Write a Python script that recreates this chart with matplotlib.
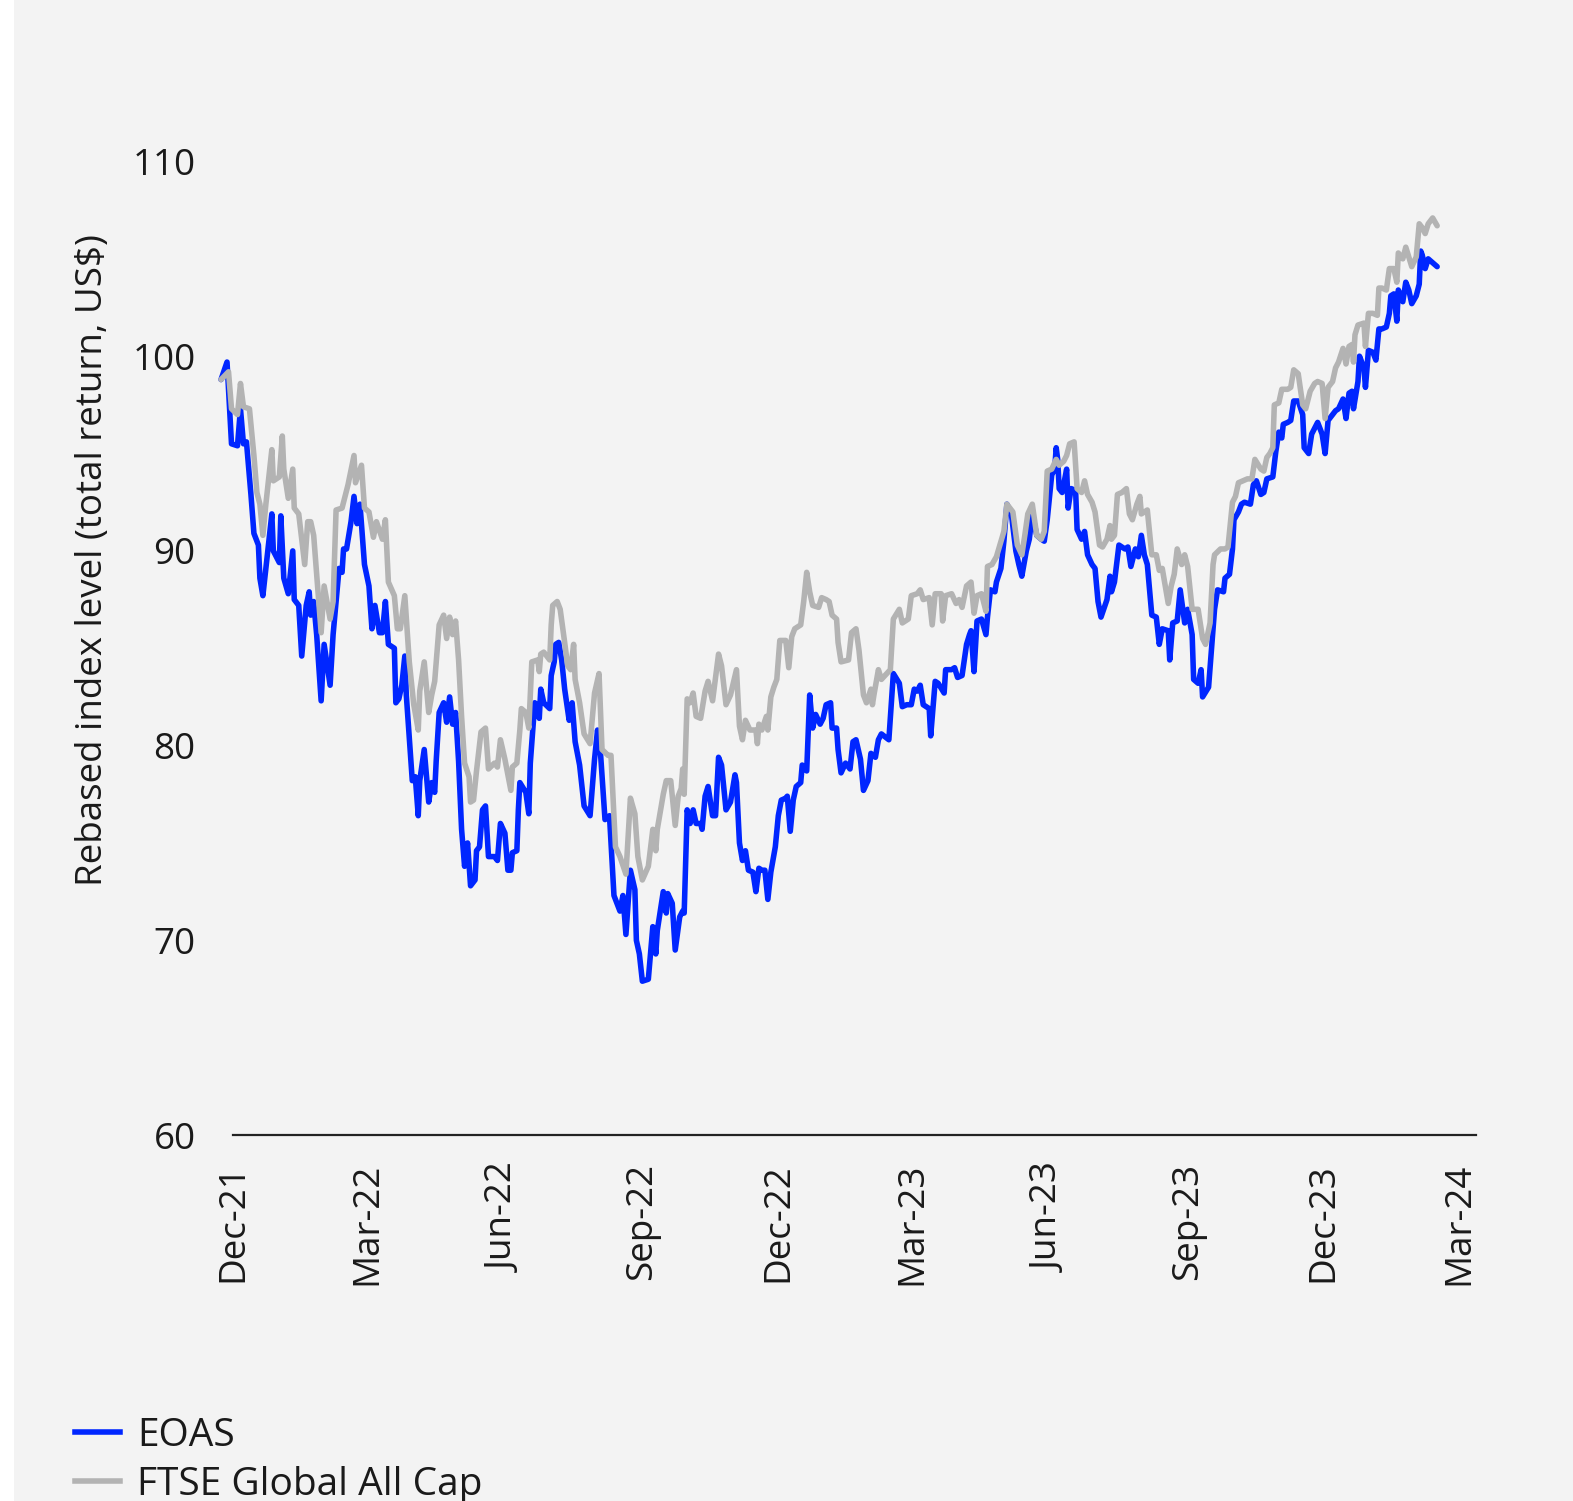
import numpy as np
import matplotlib
matplotlib.use("Agg")
import matplotlib.pyplot as plt
from matplotlib.patches import Rectangle
from matplotlib.lines import Line2D

plt.rcParams['font.family'] = ['Open Sans', 'DejaVu Sans']

start_date = np.datetime64('2021-11-23')

eoas_day = [0, 4, 7, 11, 13, 15, 17, 20, 22, 25, 26, 28, 34, 35, 39, 40, 42, 45, 48, 49,
            52, 54, 57, 59, 60, 62, 64, 67, 69, 73, 75, 79, 81, 82, 84, 87, 89, 91, 93, 96,
            99, 101, 103, 106, 108, 110, 112, 116, 117, 119, 121, 123, 124, 128, 130, 132, 133, 136, 139, 141,
            143, 144, 146, 149, 151, 153, 155, 157, 159, 161, 163, 165, 167, 170, 171, 173, 175, 177, 179, 183,
            185, 187, 190, 192, 194, 195, 198, 199, 200, 204, 206, 207, 210, 211, 213, 214, 216, 220, 221, 223,
            224, 226, 228, 230, 233, 235, 237, 240, 243, 247, 250, 252, 254, 257, 260, 263, 267, 269, 271, 274,
            277, 278, 280, 282, 286, 289, 291, 292, 296, 298, 299, 302, 304, 307, 309, 310, 312, 314, 316, 318,
            321, 322, 324, 326, 329, 331, 333, 335, 338, 341, 344, 345, 347, 349, 351, 353, 356, 358, 360, 362,
            364, 366, 368, 371, 373, 375, 378, 379, 381, 383, 385, 388, 389, 392, 394, 396, 398, 401, 403, 405,
            408, 409, 412, 413, 415, 418, 421, 423, 425, 428, 430, 433, 435, 438, 440, 442, 447, 450, 454, 456,
            459, 462, 464, 466, 468, 470, 474, 475, 478, 480, 484, 485, 489, 491, 493, 496, 499, 501, 502, 504,
            506, 509, 512, 513, 515, 518, 519, 522, 524, 526, 529, 532, 534, 536, 539, 541, 543, 546, 549, 551,
            553, 556, 558, 559, 560, 561, 563, 566, 567, 569, 572, 573, 576, 578, 580, 583, 585, 587, 589, 593,
            595, 596, 598, 601, 605, 607, 609, 612, 614, 616, 618, 620, 623, 626, 628, 630, 634, 635, 637, 640,
            642, 645, 647, 650, 651, 654, 656, 657, 661, 663, 665, 667, 671, 672, 675, 677, 678, 681, 683, 685,
            689, 691, 693, 696, 698, 700, 704, 706, 708, 710, 711, 714, 716, 718, 721, 724, 725, 728, 730, 732,
            734, 737, 739, 741, 744, 746, 748, 751, 753, 755, 757, 758, 761, 762, 765, 766, 768, 771, 773, 775,
            777, 780, 782, 783, 785, 787, 788, 791, 793, 795, 797, 800, 802, 803, 804, 806, 808, 811, 814]
eoas_value = [98.8, 99.7, 95.5, 95.4, 97.3, 95.5, 95.6, 92.9, 90.9, 90.3, 88.6, 87.7, 91.9, 90.0, 89.4, 91.8, 88.6, 87.8, 90.0, 87.5,
              87.2, 84.6, 87.2, 87.9, 86.7, 87.4, 85.7, 82.3, 85.2, 83.1, 85.7, 89.1, 88.9, 90.1, 90.1, 91.5, 92.8, 91.4, 92.4, 89.3,
              88.2, 86.0, 87.2, 85.8, 85.8, 87.4, 85.2, 85.0, 82.2, 82.4, 83.1, 84.6, 82.6, 78.2, 78.4, 76.4, 78.2, 79.8, 77.1, 78.1,
              77.6, 79.2, 81.7, 82.2, 81.2, 82.5, 81.1, 81.7, 79.2, 75.7, 73.8, 75.0, 72.8, 73.1, 74.6, 74.8, 76.7, 76.9, 74.3, 74.3,
              74.1, 76.0, 75.5, 73.6, 73.6, 74.5, 74.6, 76.7, 78.1, 77.6, 76.5, 79.1, 82.2, 82.1, 81.4, 82.9, 82.2, 81.9, 83.6, 84.3,
              85.2, 85.3, 84.4, 82.9, 81.3, 82.2, 80.2, 79.0, 76.9, 76.4, 79.3, 80.8, 79.6, 76.2, 76.4, 72.3, 71.5, 72.3, 70.3, 73.6,
              72.6, 70.0, 69.3, 67.9, 68.0, 70.7, 69.3, 70.5, 72.5, 71.4, 72.4, 71.9, 69.5, 71.2, 71.5, 71.4, 76.7, 76.0, 76.7, 76.0,
              76.0, 75.7, 77.4, 77.9, 76.4, 76.4, 79.4, 79.0, 76.7, 77.1, 78.5, 78.1, 75.0, 74.1, 74.6, 73.6, 73.5, 72.5, 73.7, 73.6,
              73.6, 72.1, 73.5, 74.8, 76.4, 77.2, 77.3, 77.4, 75.6, 77.2, 77.9, 78.1, 79.0, 78.7, 82.6, 80.9, 81.6, 81.1, 81.4, 82.1,
              82.2, 80.9, 80.9, 79.8, 78.6, 79.1, 78.8, 80.2, 80.3, 79.3, 77.7, 78.2, 79.6, 79.4, 80.3, 80.6, 80.3, 83.7, 83.2, 82.0,
              82.1, 82.1, 82.9, 82.8, 83.1, 82.1, 81.9, 80.5, 83.3, 83.2, 82.7, 83.9, 83.9, 84.0, 83.5, 83.6, 85.2, 85.7, 85.9, 83.8,
              86.4, 86.5, 85.7, 86.6, 88.0, 87.9, 88.4, 89.1, 90.5, 92.4, 91.9, 90.0, 89.3, 88.7, 90.0, 90.6, 91.9, 90.8, 90.6, 90.5,
              91.6, 93.9, 94.2, 95.3, 94.7, 93.2, 93.0, 94.2, 92.2, 93.2, 93.1, 91.1, 90.6, 91.0, 89.8, 89.3, 89.1, 87.4, 86.6, 87.5,
              88.7, 87.9, 88.4, 90.3, 90.1, 90.2, 89.2, 90.1, 89.7, 90.8, 89.8, 89.3, 86.7, 86.6, 85.2, 86.0, 85.9, 84.4, 86.3, 86.4,
              88.0, 86.3, 87.0, 85.7, 83.4, 83.2, 83.9, 82.5, 83.0, 85.0, 87.0, 88.0, 87.9, 88.6, 88.8, 90.1, 91.6, 92.0, 92.4, 92.5,
              92.4, 93.4, 93.6, 92.9, 93.0, 93.7, 93.8, 95.1, 96.1, 95.8, 96.5, 96.6, 96.7, 97.7, 97.7, 97.0, 95.3, 95.0, 96.0, 96.3,
              96.6, 96.0, 95.0, 96.7, 97.0, 97.2, 97.3, 97.8, 96.8, 98.1, 98.2, 97.3, 98.7, 100.0, 99.4, 98.4, 100.3, 100.2, 99.8, 101.4,
              101.4, 101.5, 102.2, 103.1, 103.2, 101.8, 103.4, 102.8, 103.8, 103.4, 102.7, 103.1, 103.7, 105.4, 105.2, 104.5, 105.0, 104.8, 104.6]

ftse_day = [0, 5, 7, 11, 13, 15, 19, 22, 24, 26, 28, 30, 34, 35, 39, 41, 42, 45, 48, 49,
            52, 56, 58, 60, 62, 64, 67, 69, 73, 75, 77, 81, 85, 89, 90, 94, 96, 99, 102, 104,
            108, 110, 112, 116, 118, 120, 123, 126, 129, 132, 133, 136, 139, 141, 143, 146, 149, 151, 153, 155,
            157, 159, 161, 163, 166, 167, 169, 171, 174, 177, 179, 183, 185, 187, 190, 194, 195, 198, 200, 201,
            204, 206, 208, 212, 213, 214, 216, 220, 221, 222, 225, 227, 230, 232, 234, 236, 237, 240, 243, 247,
            250, 253, 255, 259, 261, 264, 267, 271, 274, 277, 279, 282, 286, 289, 291, 292, 296, 298, 301, 304,
            306, 308, 309, 310, 312, 314, 316, 318, 321, 324, 326, 329, 333, 335, 338, 341, 345, 347, 349, 351,
            354, 358, 359, 360, 362, 365, 366, 368, 370, 372, 374, 378, 380, 382, 384, 388, 390, 392, 394, 396,
            400, 402, 405, 407, 409, 412, 413, 415, 420, 422, 425, 427, 430, 432, 435, 436, 437, 440, 442, 448,
            450, 454, 456, 460, 462, 466, 468, 470, 474, 476, 478, 482, 483, 485, 489, 492, 494, 496, 499, 502,
            504, 506, 509, 512, 513, 516, 519, 524, 526, 530, 533, 536, 538, 540, 543, 546, 549, 551, 553, 556,
            559, 561, 564, 566, 568, 571, 573, 576, 578, 580, 583, 585, 588, 590, 593, 595, 596, 598, 600, 603,
            606, 608, 610, 613, 615, 616, 620, 623, 626, 628, 630, 634, 636, 638, 640, 643, 645, 647, 650, 652,
            654, 657, 659, 662, 664, 665, 669, 672, 674, 677, 679, 681, 684, 687, 690, 692, 696, 698, 700, 702,
            704, 705, 708, 710, 714, 716, 718, 721, 724, 726, 729, 732, 734, 737, 739, 741, 744, 746, 748, 751,
            753, 755, 757, 758, 759, 761, 765, 766, 768, 771, 774, 775, 777, 780, 782, 785, 787, 788, 791, 793,
            795, 797, 800, 802, 804, 806, 808, 811, 814]
ftse_value = [98.8, 99.2, 97.3, 97.0, 98.6, 97.4, 97.3, 94.9, 93.0, 92.4, 90.8, 92.4, 95.2, 93.6, 93.8, 95.9, 94.2, 92.7, 94.2, 92.2,
              91.9, 89.3, 91.5, 91.5, 90.8, 88.8, 85.8, 88.2, 86.5, 87.4, 92.1, 92.2, 93.4, 94.9, 93.5, 94.4, 92.2, 92.0, 90.7, 91.5,
              90.6, 91.6, 88.4, 87.7, 86.0, 86.0, 87.7, 84.3, 82.1, 80.8, 82.8, 84.3, 81.7, 82.6, 83.3, 86.2, 86.7, 85.5, 86.6, 85.7,
              86.4, 84.4, 81.5, 79.1, 78.4, 77.1, 77.2, 78.7, 80.7, 80.9, 78.8, 79.1, 78.9, 80.3, 79.3, 77.7, 78.9, 79.1, 80.8, 81.9,
              81.7, 80.9, 84.3, 84.4, 83.8, 84.7, 84.8, 84.4, 86.2, 87.2, 87.4, 87.0, 85.3, 84.1, 83.9, 85.2, 83.4, 82.2, 80.6, 80.1,
              82.7, 83.7, 79.8, 79.5, 79.5, 74.8, 74.3, 73.4, 77.3, 76.5, 74.3, 73.1, 73.8, 75.7, 74.6, 75.7, 77.5, 78.2, 78.2, 75.9,
              77.4, 77.8, 78.8, 77.5, 82.4, 82.2, 82.7, 81.5, 81.4, 82.8, 83.3, 82.3, 84.7, 84.1, 82.1, 82.6, 83.9, 81.0, 80.3, 81.3,
              80.8, 80.8, 80.1, 81.1, 80.8, 81.5, 80.8, 82.5, 83.0, 83.4, 85.4, 85.4, 84.0, 85.6, 86.0, 86.2, 87.4, 88.9, 87.9, 87.2,
              87.1, 87.6, 87.5, 87.4, 86.7, 86.5, 85.3, 84.3, 84.4, 85.8, 86.0, 84.9, 82.6, 82.2, 82.9, 82.1, 82.6, 83.9, 83.4, 83.9,
              86.5, 87.0, 86.3, 86.5, 87.7, 87.8, 88.0, 87.5, 87.6, 86.2, 87.8, 87.8, 86.4, 87.7, 87.8, 87.3, 87.5, 87.1, 88.2, 88.4,
              86.8, 87.7, 87.8, 86.9, 89.2, 89.3, 89.7, 91.0, 92.4, 92.0, 90.3, 89.8, 90.8, 91.9, 92.4, 90.8, 90.6, 91.0, 94.1, 94.2,
              94.7, 94.4, 94.6, 94.9, 95.5, 95.6, 93.2, 93.0, 93.6, 92.9, 92.5, 92.0, 90.3, 90.2, 90.6, 91.3, 90.6, 90.8, 92.9, 93.0,
              93.2, 91.9, 91.6, 92.4, 92.8, 91.9, 92.1, 89.8, 89.8, 89.0, 89.1, 87.3, 88.2, 88.8, 90.1, 89.3, 89.8, 89.2, 87.0, 87.0,
              87.0, 85.5, 85.2, 86.3, 89.3, 89.8, 90.1, 90.1, 90.2, 92.5, 92.8, 93.5, 93.6, 93.7, 93.7, 94.7, 94.2, 94.1, 94.8, 95.0,
              95.3, 97.5, 97.6, 98.3, 98.3, 98.4, 99.3, 99.1, 97.5, 97.3, 98.2, 98.6, 98.7, 98.6, 96.8, 98.4, 98.7, 99.4, 99.7, 100.4,
              99.6, 100.5, 100.6, 99.7, 101.1, 101.6, 101.7, 100.5, 102.2, 102.2, 102.1, 103.5, 103.5, 103.4, 104.5, 104.5, 103.8, 105.3, 105.0, 105.6,
              105.1, 104.6, 105.1, 106.8, 106.6, 106.3, 106.8, 107.1, 106.7]

series_labels = ['EOAS', 'FTSE Global All Cap']
y_ticks = [60, 70, 80, 90, 100, 110]
x_tick_dates = ['2021-12-01', '2022-03-01', '2022-06-01', '2022-09-01', '2022-12-01',
                '2023-03-01', '2023-06-01', '2023-09-01', '2023-12-01', '2024-03-01']
x_tick_labels = ['Dec-21', 'Mar-22', 'Jun-22', 'Sep-22', 'Dec-22',
                 'Mar-23', 'Jun-23', 'Sep-23', 'Dec-23', 'Mar-24']
y_label = 'Rebased index level (total return, US$)'

BLUE = '#0026ff'
GREY = '#b3b3b3'
BG = '#f3f3f3'
TXT = '#1a1a1a'
FS = 26.5
FS_LEG = 28
LW = 4.0

W, H = 1573, 1501
fig = plt.figure(figsize=(W / 100, H / 100), dpi=100, facecolor=BG)
fig.patches.append(Rectangle((0, 0), 14 / W, 1, transform=fig.transFigure,
                             facecolor='white', edgecolor='none', zorder=0))

ax = fig.add_axes([233 / W, 1 - 1135 / H, (1476 - 233) / W, (1135 - 161.5) / H])
ax.set_facecolor(BG)

eoas_x = (start_date + np.array(eoas_day).astype('timedelta64[D]')).astype(object)
ftse_x = (start_date + np.array(ftse_day).astype('timedelta64[D]')).astype(object)

ax.plot(eoas_x, eoas_value, color=BLUE, lw=LW,
        solid_joinstyle='round', solid_capstyle='round', clip_on=False, zorder=3)
ax.plot(ftse_x, ftse_value, color=GREY, lw=LW,
        solid_joinstyle='round', solid_capstyle='round', clip_on=False, zorder=4)

x0 = np.datetime64('2021-12-01').astype(object)
x1 = (np.datetime64('2021-12-01') + np.timedelta64(832, 'D')).astype(object)
ax.set_xlim(x0, x1)
ax.set_ylim(60, 110)

for s in ['top', 'right', 'left']:
    ax.spines[s].set_visible(False)
ax.spines['bottom'].set_color('#222222')
ax.spines['bottom'].set_linewidth(1.6)
ax.spines['bottom'].set_zorder(5)

ax.set_yticks(y_ticks)
ax.set_yticklabels([str(v) for v in y_ticks])
ax.set_xticks([np.datetime64(d).astype(object) for d in x_tick_dates])
ax.set_xticklabels(x_tick_labels, rotation=90, ha='center', va='top')
ax.tick_params(axis='y', length=0, pad=27, labelsize=FS, labelcolor=TXT)
ax.tick_params(axis='x', length=0, pad=20, labelsize=FS, labelcolor=TXT)

fig.text(93 / W, 1 - 560 / H, y_label, rotation=90, ha='center', va='center',
         fontsize=FS, color=TXT)

handles = [Line2D([], [], color=BLUE, lw=LW), Line2D([], [], color=GREY, lw=LW)]
fig.legend(handles, series_labels, loc='upper left', bbox_to_anchor=(75 / W, 1 - 1417 / H),
           frameon=False, fontsize=FS_LEG, handlelength=1.15, handletextpad=0.45,
           labelspacing=0.27, borderpad=0, borderaxespad=0, labelcolor=TXT)

fig.savefig('out.png', dpi=100, facecolor=BG)
